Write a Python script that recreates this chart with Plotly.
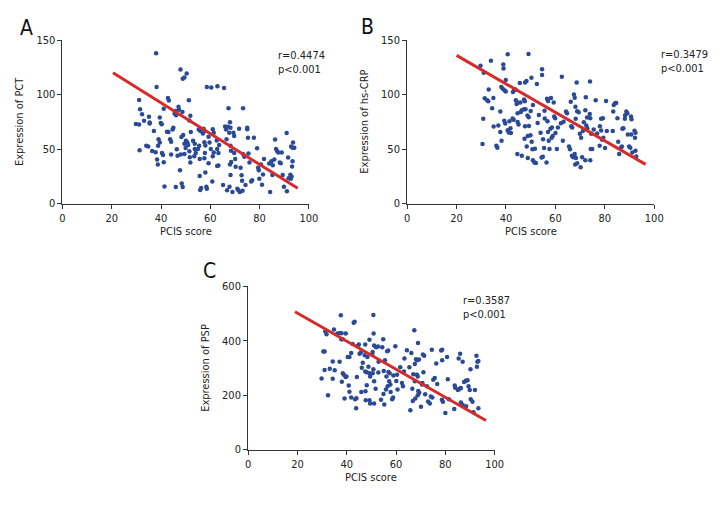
import plotly.graph_objects as go

# ---------------- Data ----------------
# Panel A: PCIS score vs PCT
a_x = [38.0,38.2,47.9,48.8,49.5,50.4,58.6,60.4,62.9,65.6,29.8,31.1,31.1,31.5,32.3,33.1,31.3,34.0,34.8,35.1,
       35.4,35.4,37.1,36.4,37.8,38.4,38.7,39.0,39.5,38.8,39.5,39.9,40.3,40.4,40.8,41.1,41.1,41.4,42.4,43.0,
       42.8,43.2,43.7,44.1,44.1,45.0,44.7,45.5,46.1,46.0,46.4,46.7,46.0,47.1,47.3,47.7,48.0,48.7,48.3,49.0,
       48.4,48.8,49.5,50.0,49.5,50.1,50.7,51.0,51.5,51.7,51.3,51.9,51.5,52.1,51.9,53.7,54.1,53.5,53.0,53.7,
       55.3,56.0,55.5,55.0,55.7,55.7,55.9,56.3,57.0,57.3,57.7,57.6,58.0,57.8,57.6,58.0,58.4,58.6,59.3,59.7,
       59.3,60.2,61.0,61.4,60.8,61.4,61.0,62.6,62.8,63.3,62.8,63.3,63.6,65.2,66.0,66.4,67.2,66.6,67.4,66.8,
       68.0,68.2,67.7,68.2,68.4,68.5,68.0,68.2,67.8,69.0,69.4,69.7,69.7,70.1,70.3,71.0,71.4,72.0,71.7,72.3,
       72.9,72.7,73.3,73.4,73.8,73.1,74.3,75.0,75.0,75.3,75.5,75.9,76.6,77.0,77.7,79.0,79.4,79.7,79.9,80.6,
       81.4,81.8,81.0,83.9,84.3,84.8,85.4,85.2,86.0,86.3,86.7,87.1,87.6,88.2,88.6,89.0,89.4,89.9,91.0,91.1,
       91.6,91.8,92.5,93.0,92.8,93.4,94.1,93.6,93.4,93.2,92.7]
a_y = [138,107,123,114.5,115.7,119.3,107,106.5,107.7,106,73,72.5,95,86.5,82,76,49,53,52.5,79.6,
       74.5,73.4,66.5,48.3,47,40.5,35.8,59,56,53,79,74,72.8,46.5,44.7,38,87,15.8,66,65.6,
       97,94.5,59,56.7,45,69.5,68,82.6,81,85,49.8,43.8,15.2,88.9,86,30.7,45,84,61,63,
       18.5,15.2,55,51,45.6,57.6,56,53.7,48,42.6,94.8,80.5,76.3,65.6,37.6,50,46.5,43.5,57.6,55,
       68,66.5,53,50,41,25.3,12.5,14.3,64.4,68.6,66.5,56.4,53.4,46.5,41.5,28.6,15.5,13.7,61.4,56,
       37,50,68.3,65,20.3,46.8,43.5,58,50,46.5,34.6,35,53.7,17,70.7,68,70.4,59,87.4,12.2,
       74.6,69.5,65,53,48.6,38.2,35.8,26.2,15.5,10.7,65,62,46.5,41,33.7,13.7,12.2,10.7,68.6,32.8,
       21,26,87.4,45.3,43,11.9,17,69.5,68.3,60.5,46,37.6,20.3,21.5,60.5,50.7,32.8,30.7,22.7,35.8,
       26.8,41,17.3,36.7,10.7,38.8,35.2,26.2,40.5,58.8,50,48.3,46.8,37.6,37,46.8,26.2,15.5,64.7,11.3,
       42.4,23.3,26.5,24.8,52.5,51.3,51.3,56,38.8,34,22.7]
a_line_x = [20.5, 95.5]
a_line_y = [120, 14]

# Panel B: PCIS score vs hs-CRP
b_x = [29.7,31.0,30.8,30.5,31.4,32.4,32.8,33.0,33.9,34.4,34.9,35.0,36.1,36.5,36.9,37.7,38.2,37.7,38.1,38.7,
       38.9,39.0,39.3,39.7,39.5,39.9,39.9,40.7,40.7,41.1,41.4,41.8,42.0,42.8,42.7,43.1,43.4,43.9,44.0,44.3,
       44.7,44.7,44.7,45.1,44.6,45.6,45.8,46.0,46.4,46.4,47.3,47.6,47.3,47.9,47.5,47.7,48.3,47.7,48.4,48.7,
       49.2,48.8,49.1,48.8,49.3,49.9,50.0,50.3,50.4,50.7,50.9,50.9,51.5,52.1,51.7,52.5,52.8,53.3,54.0,54.4,
       54.9,54.6,54.6,55.0,55.4,55.7,55.6,56.4,56.6,57.0,56.8,57.0,57.3,57.6,58.0,58.6,58.2,58.5,58.9,59.3,
       59.5,59.9,60.0,60.6,61.0,62.2,62.6,63.0,63.3,64.3,64.7,65.5,65.9,66.2,66.4,66.8,66.7,67.2,67.6,67.5,
       67.8,67.8,68.3,68.0,68.8,68.1,68.2,68.6,68.8,69.4,69.9,70.2,70.4,70.8,71.1,71.5,72.1,72.3,72.5,72.9,
       72.1,72.8,73.9,74.1,74.0,74.1,74.3,74.9,74.5,75.5,76.3,76.9,77.9,78.0,78.5,78.5,79.2,78.9,79.4,80.5,
       80.8,80.1,83.2,83.6,83.4,84.2,84.6,85.1,85.4,85.8,86.5,86.9,87.1,87.5,88.1,88.2,88.7,89.1,89.3,89.8,
       90.3,90.6,90.8,90.7,91.1,92.0,92.4,92.2,92.4,92.7]
b_y = [126.5,120,77.8,54.6,96.6,94.8,94,104.7,131,87.4,97,70.7,53,51.3,71.6,84.4,57.6,65.6,107,105.3,
       127.6,124,76,73.4,103.8,102.9,113.3,137,67.4,65.3,75.5,69.2,64.7,102.3,78,77,105,104.4,94.8,91.3,
       92.5,83,74.9,72.5,45.6,110.6,92.8,84,85.6,44,95.4,94,86.5,86.5,59.6,111,112.4,71,52.5,80.8,
       79.3,41.8,137.2,62,71.3,62.6,85,115.4,56.7,49.8,90.4,39.7,37.6,37.3,50.4,109.8,74,81.4,65,42.4,
       42.9,123.2,118.1,59,51,78,85.3,37.6,96.3,94.2,75.5,65.6,57.6,50,68.6,69.8,97,60.5,62,92.8,
       80,78.4,64.7,50,69.8,73.7,116.3,57.6,75.2,84.4,82.9,52.5,49.8,93.4,71,69.8,44,42.6,43.5,100.2,
       97.2,45.6,41.8,35.8,37,88.9,77.8,111,84.7,83.8,64.1,33.4,60.5,42.6,66.5,74.6,85.6,97.5,71.6,69.2,
       39.7,79,82.3,78.4,112,39.7,50,50,64.1,68,94.8,64.4,53,71,67,77.8,78.4,58.5,60.5,94.2,
       66.5,51,66.5,90.4,84.4,92.2,92.2,78.4,56.7,45.6,51.3,52.5,68.6,69.2,77.8,81,84.4,82.9,63.5,52.5,
       51.3,80,77.5,63.5,46.8,66.8,65,60.5,48.6,43.2]
b_line_x = [20, 96.5]
b_line_y = [136, 36]

# Panel C: PCIS score vs PSP
c_x = [29.8,30.5,31.0,31.0,31.3,31.8,32.4,33.1,34.3,34.3,34.8,35.1,36.2,37.2,37.9,37.1,37.6,37.8,38.4,38.0,
       38.4,38.8,39.1,39.6,39.5,39.9,40.4,41.1,40.8,41.1,41.8,41.8,42.4,42.8,43.2,43.4,43.9,43.8,44.1,44.3,
       44.9,45.2,45.7,45.9,46.1,46.5,47.3,47.5,48.1,47.5,47.6,47.7,48.1,48.4,48.8,49.2,49.5,49.2,49.2,49.5,
       50.3,50.5,50.5,50.8,50.8,50.9,51.1,51.1,51.1,51.7,51.9,52.7,52.8,52.9,53.9,54.4,54.8,54.9,55.0,55.2,
       55.5,55.9,56.1,56.4,56.8,56.6,56.9,57.4,57.2,57.7,57.8,58.4,58.8,58.9,59.7,60.1,60.4,60.6,61.7,62.4,
       62.8,63.2,63.4,64.4,65.4,65.8,66.2,66.6,66.8,67.0,67.4,67.6,68.1,68.5,67.6,67.8,68.5,68.8,68.9,69.0,
       69.4,68.8,69.3,70.1,70.5,70.7,70.9,71.4,71.1,71.8,72.5,73.0,73.7,74.1,74.7,74.5,75.1,75.7,76.3,76.7,
       78.3,78.7,78.6,79.0,78.7,80.0,80.7,81.0,81.4,83.8,84.0,83.6,85.1,85.8,86.3,85.4,86.0,86.3,87.0,87.0,
       87.6,88.3,89.0,88.4,89.4,89.9,90.2,90.3,91.0,91.4,92.0,92.6,93.0,93.4,92.8,93.4]
c_y = [261.7,361,361,292.8,434,424,199.6,297.6,324,260.5,442,291.6,426.7,429,428,322.7,493.6,406,406,249.8,
       281,275,187.6,426.7,266.5,269,340.6,340.6,235.5,212.7,355,191,388.4,466,469.7,185,188.8,151.8,266.5,381,
       386,352.6,357.4,211.5,301,319,346.6,286.8,284.5,386,214,181.7,236.6,340.6,305,281,269,404,181.7,169.7,
       350,358.6,281,295,494.8,426.7,382.5,251,169.7,223.5,376.5,379,283,322.7,183,376.5,406,204,289,166,
       328.7,221,269,362,364.5,233,285.6,281,251,239,211.5,185,191,272.5,380,252,275,221,302.4,245,
       233,287,334.7,365.7,302.4,144.6,355,223.5,179,277,438.6,314.3,332.3,328.7,251,187.6,275,269,392,215,
       209,199.6,331,157.8,239,245,350,345,284.5,203,233,177,169.7,194.8,191,367,257,263,316.7,241.4,
       364.5,367,183,175.7,328.7,134,340.6,259,185,235.5,227,149.4,218.7,223.5,226,334.7,352.6,173,322.7,163.7,
       248.6,253.4,254.6,159,233,218.7,295.2,185,175.7,137.4,218.7,345.4,322.7,326,305,151.8]
c_line_x = [19, 96.5]
c_line_y = [507, 107]

x_ticks = [0, 20, 40, 60, 80, 100]

panels = [
    dict(x=a_x, y=a_y, lx=a_line_x, ly=a_line_y, xa="x", ya="y", label="A",
         ytitle="Expression of PCT", stats=["r=0.4474", "p<0.001"], yrange=[0, 150], dtick=50),
    dict(x=b_x, y=b_y, lx=b_line_x, ly=b_line_y, xa="x2", ya="y2", label="B",
         ytitle="Expression of hs-CRP", stats=["r=0.3479", "p<0.001"], yrange=[0, 150], dtick=50),
    dict(x=c_x, y=c_y, lx=c_line_x, ly=c_line_y, xa="x3", ya="y3", label="C",
         ytitle="Expression of PSP", stats=["r=0.3587", "p<0.001"], yrange=[0, 600], dtick=200),
]

W, H = 720, 516
# pixel boxes of plot areas (left, right, top, bottom)
boxes = [(60.5, 311, 35, 202.7), (411, 662.3, 35, 202.7), (249.3, 500, 287.7, 455)]
letter_pos = [(15, 22.5), (362, 22), (201.5, 272)]
stats_pos = [(277.7, 57.9), (667.3, 56.7), (466, 309.5)]

FONT = "DejaVu Sans Condensed, Liberation Sans Narrow, Arial Narrow, sans-serif"
DOT = "#2b4a96"
RED = "#d52b2b"

fig = go.Figure()
layout = dict(width=W, height=H, margin=dict(l=0, r=0, t=0, b=0),
              plot_bgcolor="white", paper_bgcolor="white", showlegend=False,
              font=dict(family=FONT, size=11, color="#222"))
annotations = []

for i, (p, b) in enumerate(zip(panels, boxes)):
    fig.add_trace(go.Scatter(x=p["x"], y=p["y"], mode="markers", xaxis=p["xa"], yaxis=p["ya"],
                             marker=dict(size=4.5, color=DOT, line=dict(width=0))))
    fig.add_trace(go.Scatter(x=p["lx"], y=p["ly"], mode="lines", xaxis=p["xa"], yaxis=p["ya"],
                             line=dict(color=RED, width=3)))
    l, r, t, bt = b
    sfx = "" if i == 0 else str(i + 1)
    common = dict(showline=True, linecolor="#333", linewidth=1, ticks="outside",
                  ticklen=4, tickcolor="#333", showgrid=False, zeroline=False, fixedrange=True,
                  tickfont=dict(family=FONT, size=11, color="#222"))
    layout["xaxis" + sfx] = dict(domain=[l / W, r / W], range=[0, 100], tickvals=x_ticks,
                                 anchor="y" + sfx, **common)
    layout["yaxis" + sfx] = dict(domain=[1 - bt / H, 1 - t / H], range=p["yrange"], dtick=p["dtick"],
                                 anchor="x" + sfx, **common)
    # x title
    annotations.append(dict(text="PCIS score", x=(l + r) / 2 / W, y=1 - (bt + 28.5) / H,
                            xref="paper", yref="paper", showarrow=False,
                            xanchor="center", yanchor="middle",
                            font=dict(family=FONT, size=11, color="#222")))
    # y title
    annotations.append(dict(text=p["ytitle"], x=(l - 43) / W, y=1 - (t + bt) / 2 / H,
                            xref="paper", yref="paper", showarrow=False, textangle=-90,
                            xanchor="center", yanchor="middle",
                            font=dict(family=FONT, size=11, color="#222")))
    # panel letter
    lx, ly = letter_pos[i]
    annotations.append(dict(text=p["label"], x=lx / W, y=1 - ly / H,
                            xref="paper", yref="paper", showarrow=False,
                            xanchor="left", yanchor="middle",
                            font=dict(family=FONT, size=21, color="#111")))
    # stats (two lines in one text block)
    sx, sy = stats_pos[i]
    annotations.append(dict(text="<br>".join(p["stats"]), x=sx / W, y=1 - sy / H,
                            xref="paper", yref="paper", showarrow=False,
                            xanchor="left", yanchor="middle", align="left",
                            font=dict(family=FONT, size=11, color="#222")))

layout["annotations"] = annotations
fig.update_layout(**layout)
fig.write_html("out.html", config={"displayModeBar": False},
               post_script="document.body.style.margin='0px';")
